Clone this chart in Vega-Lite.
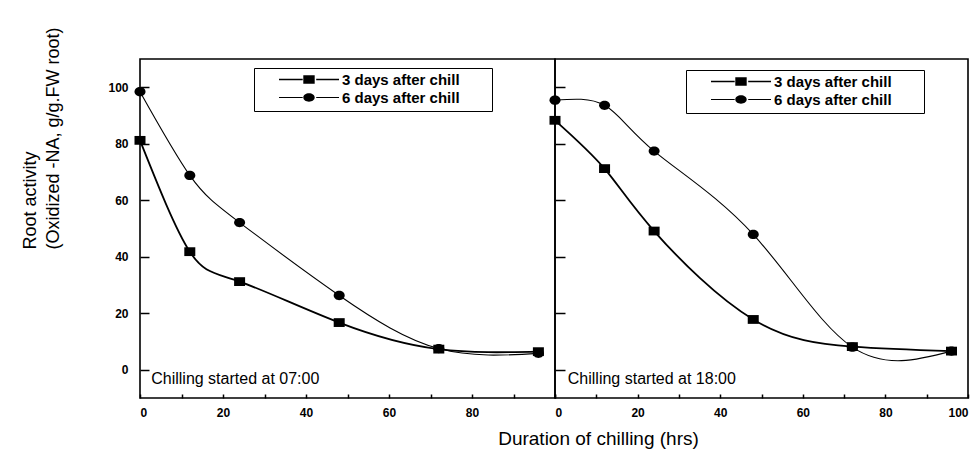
{
  "$schema": "https://vega.github.io/schema/vega-lite/v6.json",
  "background": "white",
  "padding": {"left": 20, "top": 26, "right": 5, "bottom": 5},
  "config": {
    "font": "Liberation Sans",
    "view": {"stroke": "black", "strokeWidth": 1.6},
    "axis": {"grid": false, "domain": false, "labelColor": "black", "tickColor": "black", "titleColor": "black"},
    "legend": {"orient": "none", "strokeColor": "black", "padding": 5,
      "symbolSize": 3600, "symbolOffset": 19, "symbolOpacity": 1,
      "symbolFillColor": "black",
      "clipHeight": 13, "rowPadding": 2, "labelOffset": 2,
      "labelFontSize": 15, "labelFontWeight": "bold", "labelColor": "black"}
  },
  "datasets": {
    "main": [
      {"start": "07:00", "series": "3 days after chill", "hours": 0, "activity": 81.2},
      {"start": "07:00", "series": "3 days after chill", "hours": 12, "activity": 41.8},
      {"start": "07:00", "series": "3 days after chill", "hours": 24, "activity": 31.2},
      {"start": "07:00", "series": "3 days after chill", "hours": 48, "activity": 16.7},
      {"start": "07:00", "series": "3 days after chill", "hours": 72, "activity": 7.3},
      {"start": "07:00", "series": "3 days after chill", "hours": 96, "activity": 6.4},
      {"start": "07:00", "series": "6 days after chill", "hours": 0, "activity": 98.4},
      {"start": "07:00", "series": "6 days after chill", "hours": 12, "activity": 68.8},
      {"start": "07:00", "series": "6 days after chill", "hours": 24, "activity": 52.1},
      {"start": "07:00", "series": "6 days after chill", "hours": 48, "activity": 26.3},
      {"start": "07:00", "series": "6 days after chill", "hours": 72, "activity": 7.5},
      {"start": "07:00", "series": "6 days after chill", "hours": 96, "activity": 5.8},
      {"start": "18:00", "series": "3 days after chill", "hours": 0, "activity": 88.3},
      {"start": "18:00", "series": "3 days after chill", "hours": 12, "activity": 71.2},
      {"start": "18:00", "series": "3 days after chill", "hours": 24, "activity": 49.1},
      {"start": "18:00", "series": "3 days after chill", "hours": 48, "activity": 17.8},
      {"start": "18:00", "series": "3 days after chill", "hours": 72, "activity": 8.2},
      {"start": "18:00", "series": "3 days after chill", "hours": 96, "activity": 6.6},
      {"start": "18:00", "series": "6 days after chill", "hours": 0, "activity": 95.4},
      {"start": "18:00", "series": "6 days after chill", "hours": 12, "activity": 93.6},
      {"start": "18:00", "series": "6 days after chill", "hours": 24, "activity": 77.4},
      {"start": "18:00", "series": "6 days after chill", "hours": 48, "activity": 47.9},
      {"start": "18:00", "series": "6 days after chill", "hours": 72, "activity": 8.0},
      {"start": "18:00", "series": "6 days after chill", "hours": 96, "activity": 6.6}
    ],
    "notes": [
      {"start": "07:00", "note": "Chilling started at 07:00"},
      {"start": "18:00", "note": "Chilling started at 18:00"}
    ]
  },
  "spacing": 0,
  "bounds": "flush",
  "resolve": {"legend": {"shape": "independent"}, "scale": {"shape": "independent"}},
  "hconcat": [
    {
      "width": 415,
      "height": 339,
      "resolve": {"scale": {"shape": "independent"}},
      "layer": [
        {
          "data": {"name": "main"},
          "transform": [{"filter": "datum.start === '07:00'"}],
          "mark": {"type": "line", "interpolate": "natural", "color": "black"},
          "encoding": {
            "x": {"field": "hours", "type": "quantitative", "scale": {"domain": [0, 100], "nice": false, "zero": false},
              "axis": {"values": [0, 10, 20, 30, 40, 50, 60, 70, 80, 90, 100],
                "labelExpr": "datum.value % 20 === 0 && datum.value < 100 ? datum.label : ''",
                "offset": -4, "tickSize": 4, "tickWidth": 1.5, "labelPadding": 9, "labelFontSize": 12, "labelFontWeight": "bold",
                "title": "Duration of chilling (hrs)", "titleFontSize": 19, "titleFontWeight": "normal",
                "titleX": 458, "titleY": 44, "titleAlign": "center", "titleBaseline": "middle"}},
            "y": {"field": "activity", "type": "quantitative", "scale": {"domain": [-10, 110], "nice": false, "zero": false},
              "axis": {"values": [0, 10, 20, 30, 40, 50, 60, 70, 80, 90, 100],
                "labelExpr": "datum.value % 20 === 0 ? datum.label : ''",
                "offset": -9, "tickSize": 9, "tickWidth": 1.5, "labelPadding": 12, "labelFontSize": 12, "labelFontWeight": "bold",
                "title": ["Root activity", "(Oxidized -NA, g/g.FW root)"],
                "titleFontSize": 18, "titleFontWeight": "normal", "titleLineHeight": 23,
                "titleAngle": -90, "titleAlign": "left", "titleBaseline": "middle",
                "titleX": -119, "titleY": 190}},
            "strokeWidth": {"field": "series", "type": "nominal",
              "scale": {"domain": ["3 days after chill", "6 days after chill"], "range": [1.8, 1.1]}, "legend": null}
          }
        },
        {
          "data": {"name": "main"},
          "transform": [{"filter": "datum.start === '07:00'"}],
          "mark": {"type": "point", "filled": true, "color": "black", "size": 121, "opacity": 1},
          "encoding": {
            "x": {"field": "hours", "type": "quantitative"},
            "y": {"field": "activity", "type": "quantitative"},
            "shape": {"field": "series", "type": "nominal",
              "scale": {"domain": ["3 days after chill", "6 days after chill"],
                "range": ["M-1,-0.8H1V0.8H-1Z", "M-1,0A1,0.85 0 1,0 1,0A1,0.85 0 1,0 -1,0Z"]},
              "legend": null}
          }
        },
        {
          "data": {"name": "main"},
          "transform": [{"filter": "datum.start === '07:00'"}],
          "mark": {"type": "point", "filled": true, "color": "black", "size": 121, "opacity": 0},
          "encoding": {
            "x": {"field": "hours", "type": "quantitative"},
            "y": {"field": "activity", "type": "quantitative"},
            "shape": {"field": "series", "type": "nominal",
              "scale": {"domain": ["3 days after chill", "6 days after chill"],
                "range": ["M-1,-0.025H-0.21V0.025H-1ZM0.24,-0.025H1V0.025H0.24ZM-0.19,-0.14H0.19V0.14H-0.19Z", "M-1,-0.017H-0.21V0.017H-1ZM0.24,-0.017H1V0.017H0.24ZM-0.19,0A0.19,0.14 0 1,0 0.19,0A0.19,0.14 0 1,0 -0.19,0Z"]},
              "legend": {"title": " ", "titleOrient": "right", "titlePadding": 27, "legendX": 114, "legendY": 9}}
          }
        },
        {
          "data": {"name": "notes"},
          "transform": [{"filter": "datum.start === '07:00'"}],
          "mark": {"type": "text", "align": "left", "baseline": "middle", "fontSize": 16, "color": "black"},
          "encoding": {
            "x": {"datum": 2.7},
            "y": {"datum": -3.3},
            "text": {"field": "note"}
          }
        }
      ]
    },
    {
      "width": 413,
      "height": 339,
      "resolve": {"scale": {"shape": "independent"}},
      "layer": [
        {
          "data": {"name": "main"},
          "transform": [{"filter": "datum.start === '18:00'"}],
          "mark": {"type": "line", "interpolate": "natural", "color": "black"},
          "encoding": {
            "x": {"field": "hours", "type": "quantitative", "scale": {"domain": [0, 100], "nice": false, "zero": false},
              "axis": {"values": [0, 10, 20, 30, 40, 50, 60, 70, 80, 90, 100],
                "labelExpr": "datum.value % 20 === 0 ? datum.label : ''",
                "offset": -4, "tickSize": 4, "tickWidth": 1.5, "labelPadding": 9, "labelFontSize": 12, "labelFontWeight": "bold",
                "title": null}},
            "y": {"field": "activity", "type": "quantitative", "scale": {"domain": [-10, 110], "nice": false, "zero": false},
              "axis": {"values": [0, 10, 20, 30, 40, 50, 60, 70, 80, 90, 100],
                "labels": false, "offset": -10, "tickSize": 10, "tickWidth": 1.5, "title": null}},
            "strokeWidth": {"field": "series", "type": "nominal",
              "scale": {"domain": ["3 days after chill", "6 days after chill"], "range": [1.8, 1.1]}, "legend": null}
          }
        },
        {
          "data": {"name": "main"},
          "transform": [{"filter": "datum.start === '18:00'"}],
          "mark": {"type": "point", "filled": true, "color": "black", "size": 121, "opacity": 1},
          "encoding": {
            "x": {"field": "hours", "type": "quantitative"},
            "y": {"field": "activity", "type": "quantitative"},
            "shape": {"field": "series", "type": "nominal",
              "scale": {"domain": ["3 days after chill", "6 days after chill"],
                "range": ["M-1,-0.8H1V0.8H-1Z", "M-1,0A1,0.85 0 1,0 1,0A1,0.85 0 1,0 -1,0Z"]},
              "legend": null}
          }
        },
        {
          "data": {"name": "main"},
          "transform": [{"filter": "datum.start === '18:00'"}],
          "mark": {"type": "point", "filled": true, "color": "black", "size": 121, "opacity": 0},
          "encoding": {
            "x": {"field": "hours", "type": "quantitative"},
            "y": {"field": "activity", "type": "quantitative"},
            "shape": {"field": "series", "type": "nominal",
              "scale": {"domain": ["3 days after chill", "6 days after chill"],
                "range": ["M-1,-0.025H-0.21V0.025H-1ZM0.24,-0.025H1V0.025H0.24ZM-0.19,-0.14H0.19V0.14H-0.19Z", "M-1,-0.017H-0.21V0.017H-1ZM0.24,-0.017H1V0.017H0.24ZM-0.19,0A0.19,0.14 0 1,0 0.19,0A0.19,0.14 0 1,0 -0.19,0Z"]},
              "legend": {"title": " ", "titleOrient": "right", "titlePadding": 27, "legendX": 131, "legendY": 11}}
          }
        },
        {
          "data": {"name": "notes"},
          "transform": [{"filter": "datum.start === '18:00'"}],
          "mark": {"type": "text", "align": "left", "baseline": "middle", "fontSize": 16, "color": "black"},
          "encoding": {
            "x": {"datum": 3.1},
            "y": {"datum": -3.3},
            "text": {"field": "note"}
          }
        }
      ]
    }
  ]
}
